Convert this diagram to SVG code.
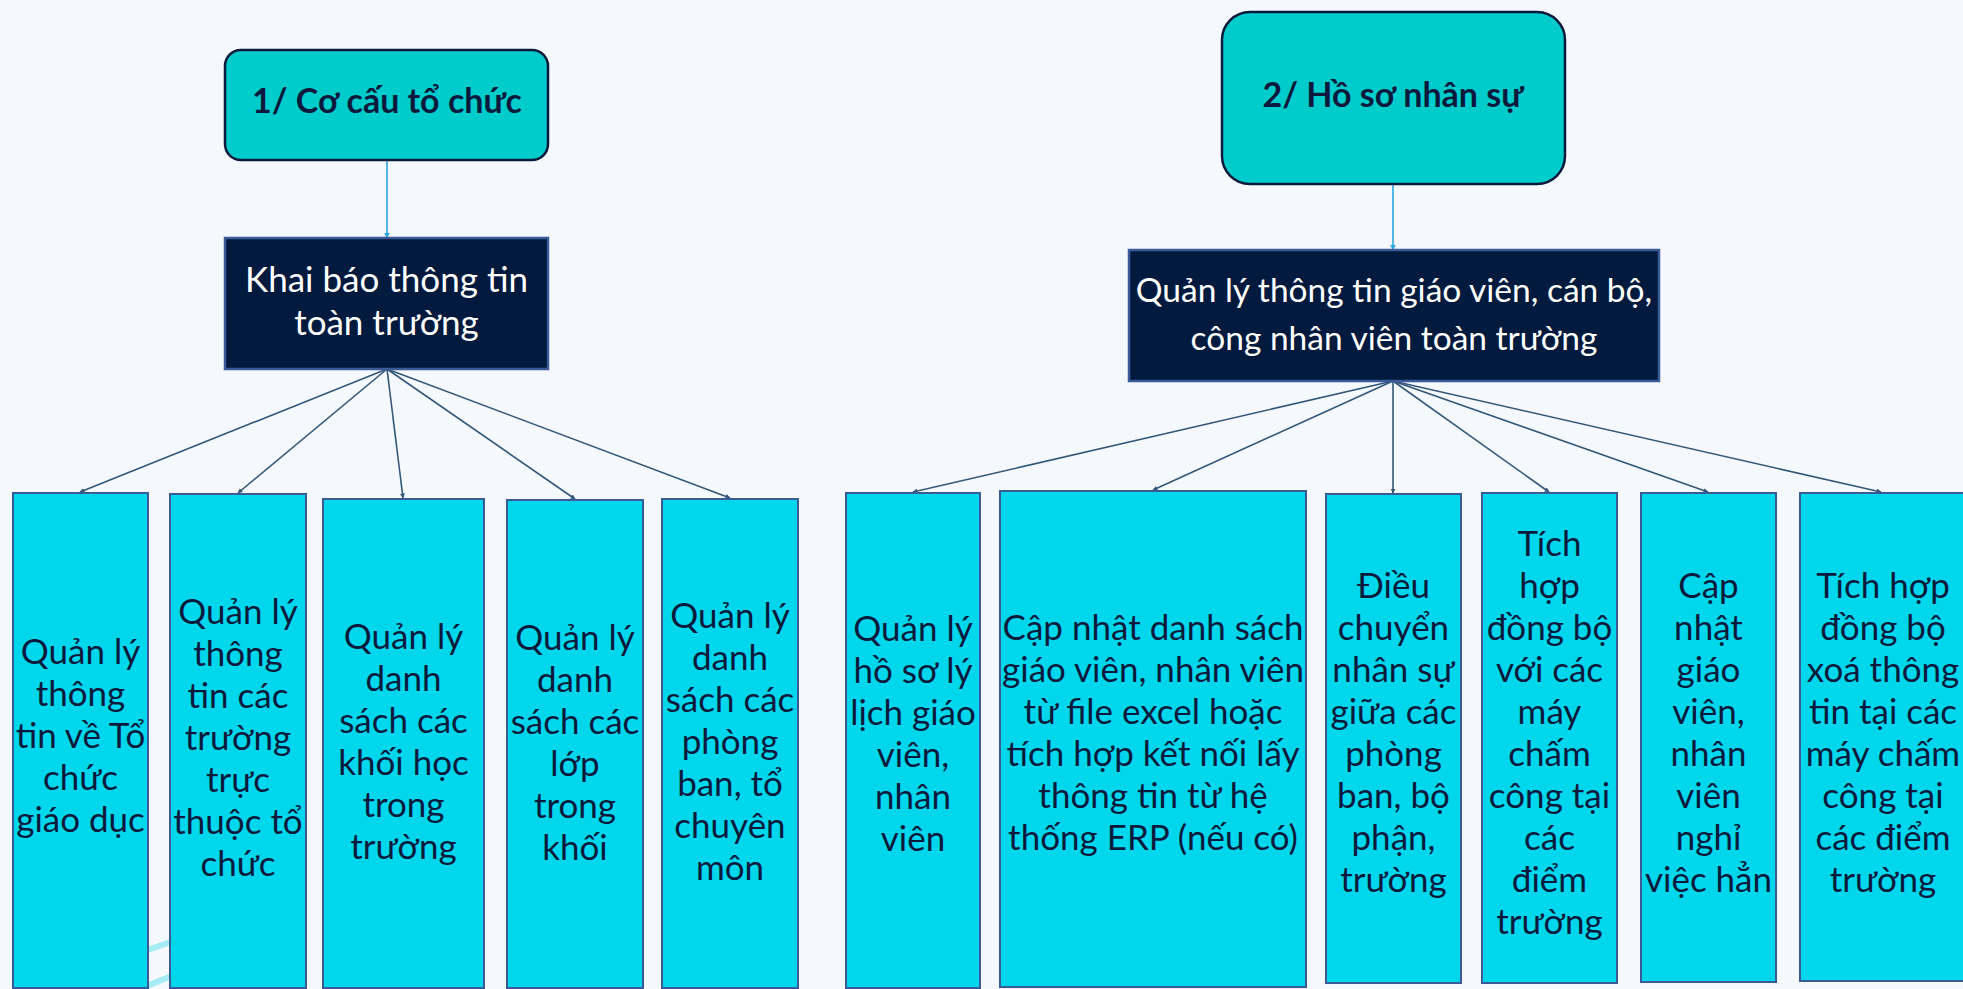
<svg xmlns="http://www.w3.org/2000/svg" width="1963" height="989" viewBox="0 0 1963 989">
<defs>
<style>
.top{fill:#00CCCC;stroke:#0B1A3C;stroke-width:2.5}
.mid{fill:#011A3E;stroke:#3B5A98;stroke-width:2.5}
.leaf{fill:#00D6EC;stroke:#3B5A98;stroke-width:2}
.tt{font-family:Lato,"Open Sans",sans-serif;font-weight:bold;font-size:34px;fill:#0B1A3C;text-anchor:middle}
.mt{font-family:Lato,"Open Sans",sans-serif;font-size:35px;fill:#FFFFFF;text-anchor:middle}
.lt{font-family:Lato,"Open Sans",sans-serif;font-size:35px;fill:#0B1A3C;text-anchor:middle}
.c{stroke:#34577A;stroke-width:1.6;fill:none;marker-end:url(#ah)}
.cb{stroke:#29A8E0;stroke-width:1.6;fill:none;marker-end:url(#ahb)}
.deco{stroke:#A6ECF6;stroke-width:6;stroke-linecap:round;fill:none}
</style>
<marker id="ah" viewBox="0 0 10 10" refX="9" refY="5" markerWidth="5" markerHeight="5" orient="auto" markerUnits="userSpaceOnUse"><path d="M0,0 L10,5 L0,10 z" fill="#34577A"/></marker>
<marker id="ahb" viewBox="0 0 10 10" refX="9" refY="5" markerWidth="6" markerHeight="6" orient="auto" markerUnits="userSpaceOnUse"><path d="M0,0 L10,5 L0,10 z" fill="#29A8E0"/></marker>
</defs>
<rect width="1963" height="989" fill="#F5F9FD"/>
<g id="decor">
<line class="deco" x1="120" y1="960" x2="240" y2="917"/>
<line class="deco" x1="120" y1="997" x2="240" y2="948"/>
</g>
<g id="connectors">
<line class="cb" x1="387" y1="160" x2="387" y2="238"/>
<line class="cb" x1="1393" y1="184" x2="1393" y2="250"/>
<line class="c" x1="387" y1="369" x2="80" y2="492"/>
<line class="c" x1="387" y1="369" x2="238" y2="493"/>
<line class="c" x1="387" y1="369" x2="403" y2="498"/>
<line class="c" x1="387" y1="369" x2="575" y2="499"/>
<line class="c" x1="387" y1="369" x2="730" y2="498"/>
<line class="c" x1="1393" y1="381" x2="913" y2="492"/>
<line class="c" x1="1393" y1="381" x2="1153" y2="490"/>
<line class="c" x1="1393" y1="381" x2="1393" y2="493"/>
<line class="c" x1="1393" y1="381" x2="1549" y2="492"/>
<line class="c" x1="1393" y1="381" x2="1708" y2="492"/>
<line class="c" x1="1393" y1="381" x2="1881" y2="492"/>
</g>
<g id="n1"><rect class="top" x="225" y="50" width="323" height="110" rx="16"/><text class="tt" x="387" y="113">1/ Cơ cấu tổ chức</text></g>
<g id="n2"><rect class="top" x="1222" y="12" width="343" height="172" rx="28"/><text class="tt" x="1393" y="107">2/ Hồ sơ nhân sự</text></g>
<g id="m1"><rect class="mid" x="225" y="238" width="323" height="131"/><text class="mt" x="386.5" y="292">Khai báo thông tin<tspan x="386.5" dy="43">toàn trường</tspan></text></g>
<g id="m2"><rect class="mid" x="1129" y="250" width="530" height="131"/><text class="mt" x="1394" y="302" style="font-size:33.5px">Quản lý thông tin giáo viên, cán bộ,<tspan x="1394" dy="48">công nhân viên toàn trường</tspan></text></g>
<g id="l1"><rect class="leaf" x="13" y="493" width="135" height="495"/><text class="lt" x="80.5" y="664">Quản lý<tspan x="80.5" dy="42">thông</tspan><tspan x="80.5" dy="42">tin về Tổ</tspan><tspan x="80.5" dy="42">chức</tspan><tspan x="80.5" dy="42">giáo dục</tspan></text></g>
<g id="l2"><rect class="leaf" x="170" y="494" width="136" height="494"/><text class="lt" x="238" y="624">Quản lý<tspan x="238" dy="42">thông</tspan><tspan x="238" dy="42">tin các</tspan><tspan x="238" dy="42">trường</tspan><tspan x="238" dy="42">trực</tspan><tspan x="238" dy="42">thuộc tổ</tspan><tspan x="238" dy="42">chức</tspan></text></g>
<g id="l3"><rect class="leaf" x="323" y="499" width="161" height="489"/><text class="lt" x="403.5" y="649">Quản lý<tspan x="403.5" dy="42">danh</tspan><tspan x="403.5" dy="42">sách các</tspan><tspan x="403.5" dy="42">khối học</tspan><tspan x="403.5" dy="42">trong</tspan><tspan x="403.5" dy="42">trường</tspan></text></g>
<g id="l4"><rect class="leaf" x="507" y="500" width="136" height="488"/><text class="lt" x="575" y="650">Quản lý<tspan x="575" dy="42">danh</tspan><tspan x="575" dy="42">sách các</tspan><tspan x="575" dy="42">lớp</tspan><tspan x="575" dy="42">trong</tspan><tspan x="575" dy="42">khối</tspan></text></g>
<g id="l5"><rect class="leaf" x="662" y="499" width="136" height="489"/><text class="lt" x="730" y="628">Quản lý<tspan x="730" dy="42">danh</tspan><tspan x="730" dy="42">sách các</tspan><tspan x="730" dy="42">phòng</tspan><tspan x="730" dy="42">ban, tổ</tspan><tspan x="730" dy="42">chuyên</tspan><tspan x="730" dy="42">môn</tspan></text></g>
<g id="r1"><rect class="leaf" x="846" y="493" width="134" height="495"/><text class="lt" x="913" y="641">Quản lý<tspan x="913" dy="42">hồ sơ lý</tspan><tspan x="913" dy="42">lịch giáo</tspan><tspan x="913" dy="42">viên,</tspan><tspan x="913" dy="42">nhân</tspan><tspan x="913" dy="42">viên</tspan></text></g>
<g id="r2"><rect class="leaf" x="1000" y="491" width="306" height="496"/><text class="lt" x="1153" y="640">Cập nhật danh sách<tspan x="1153" dy="42">giáo viên, nhân viên</tspan><tspan x="1153" dy="42">từ file excel hoặc</tspan><tspan x="1153" dy="42">tích hợp kết nối lấy</tspan><tspan x="1153" dy="42">thông tin từ hệ</tspan><tspan x="1153" dy="42">thống ERP (nếu có)</tspan></text></g>
<g id="r3"><rect class="leaf" x="1326" y="494" width="135" height="489"/><text class="lt" x="1393.5" y="598">Điều<tspan x="1393.5" dy="42">chuyển</tspan><tspan x="1393.5" dy="42">nhân sự</tspan><tspan x="1393.5" dy="42">giữa các</tspan><tspan x="1393.5" dy="42">phòng</tspan><tspan x="1393.5" dy="42">ban, bộ</tspan><tspan x="1393.5" dy="42">phận,</tspan><tspan x="1393.5" dy="42">trường</tspan></text></g>
<g id="r4"><rect class="leaf" x="1482" y="493" width="135" height="490"/><text class="lt" x="1549.5" y="556">Tích<tspan x="1549.5" dy="42">hợp</tspan><tspan x="1549.5" dy="42">đồng bộ</tspan><tspan x="1549.5" dy="42">với các</tspan><tspan x="1549.5" dy="42">máy</tspan><tspan x="1549.5" dy="42">chấm</tspan><tspan x="1549.5" dy="42">công tại</tspan><tspan x="1549.5" dy="42">các</tspan><tspan x="1549.5" dy="42">điểm</tspan><tspan x="1549.5" dy="42">trường</tspan></text></g>
<g id="r5"><rect class="leaf" x="1641" y="493" width="135" height="489"/><text class="lt" x="1708.5" y="598">Cập<tspan x="1708.5" dy="42">nhật</tspan><tspan x="1708.5" dy="42">giáo</tspan><tspan x="1708.5" dy="42">viên,</tspan><tspan x="1708.5" dy="42">nhân</tspan><tspan x="1708.5" dy="42">viên</tspan><tspan x="1708.5" dy="42">nghỉ</tspan><tspan x="1708.5" dy="42">việc hẳn</tspan></text></g>
<g id="r6"><rect class="leaf" x="1800" y="493" width="170" height="488"/><text class="lt" x="1883" y="598">Tích hợp<tspan x="1883" dy="42">đồng bộ</tspan><tspan x="1883" dy="42">xoá thông</tspan><tspan x="1883" dy="42">tin tại các</tspan><tspan x="1883" dy="42">máy chấm</tspan><tspan x="1883" dy="42">công tại</tspan><tspan x="1883" dy="42">các điểm</tspan><tspan x="1883" dy="42">trường</tspan></text></g>
</svg>
